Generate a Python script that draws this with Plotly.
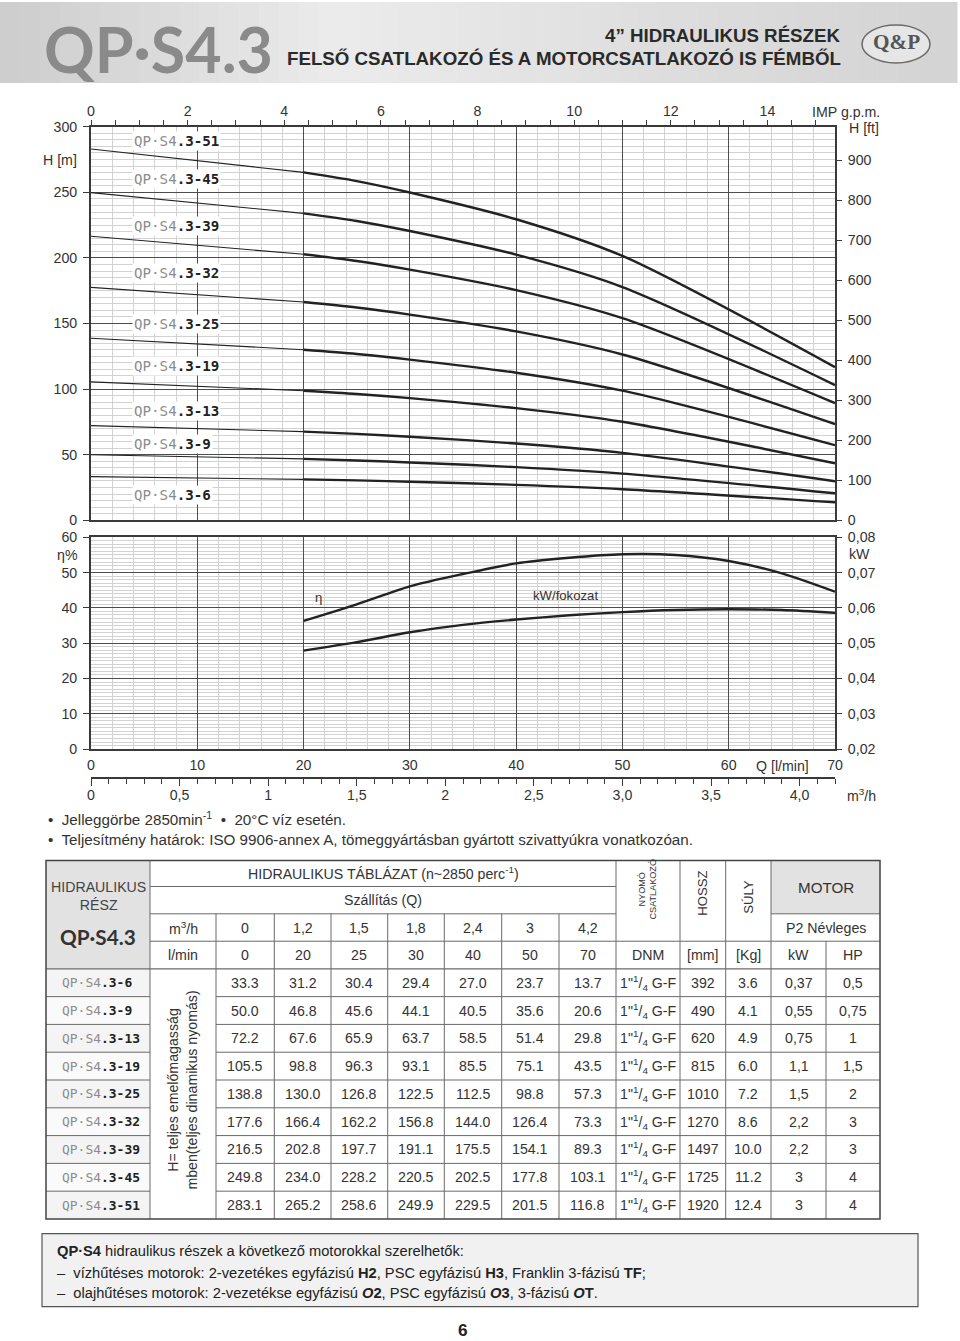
import plotly.graph_objects as go

# The photographed picture maps page position p to a + S*p; place everything so that it lands
# where the reference has it.
S = 0.9876
AXX, AYY = 4.0, 8.0
FW, FH = 968, 1350
F = 1 / S  # size compensation


def X(p):
    return ((p - AXX) / S) / FW


def Y(p):
    return 1 - ((p - AYY) / S) / FH


def fs(v):
    return round(v * F, 2)


# ---------------- data ----------------
models = ['3-6', '3-9', '3-13', '3-19', '3-25', '3-32', '3-39', '3-45', '3-51']
q_lmin = [0, 20, 25, 30, 40, 50, 70]
q_m3h_labels = ['0', '1,2', '1,5', '1,8', '2,4', '3', '4,2']
h_3_6 = [33.3, 31.2, 30.4, 29.4, 27.0, 23.7, 13.7]
h_3_9 = [50.0, 46.8, 45.6, 44.1, 40.5, 35.6, 20.6]
h_3_13 = [72.2, 67.6, 65.9, 63.7, 58.5, 51.4, 29.8]
h_3_19 = [105.5, 98.8, 96.3, 93.1, 85.5, 75.1, 43.5]
h_3_25 = [138.8, 130.0, 126.8, 122.5, 112.5, 98.8, 57.3]
h_3_32 = [177.6, 166.4, 162.2, 156.8, 144.0, 126.4, 73.3]
h_3_39 = [216.5, 202.8, 197.7, 191.1, 175.5, 154.1, 89.3]
h_3_45 = [249.8, 234.0, 228.2, 220.5, 202.5, 177.8, 103.1]
h_3_51 = [283.1, 265.2, 258.6, 249.9, 229.5, 201.5, 116.8]
heads = [h_3_6, h_3_9, h_3_13, h_3_19, h_3_25, h_3_32, h_3_39, h_3_45, h_3_51]

dnm_text = '1"<sup>1</sup>/<sub>4</sub> G-F'
length_mm = [392, 490, 620, 815, 1010, 1270, 1497, 1725, 1920]
weight_kg = [3.6, 4.1, 4.9, 6.0, 7.2, 8.6, 10.0, 11.2, 12.4]
motor_kw = ['0,37', '0,55', '0,75', '1,1', '1,5', '2,2', '2,2', '3', '3']
motor_hp = ['0,5', '0,75', '1', '1,5', '2', '3', '3', '4', '4']

q_eff = [20, 25, 30, 35, 40, 45, 50, 55, 60, 65, 70]
eta_pct = [36.3, 41.0, 46.1, 49.6, 52.6, 54.2, 55.2, 55.0, 53.3, 49.8, 44.6]
kw_stage = [0.0479, 0.0503, 0.0531, 0.0552, 0.0567, 0.0579, 0.0588, 0.0594, 0.0596, 0.0594, 0.0586]

gpm_per_lmin = 1 / 4.54609
ft_per_m = 1 / 0.3048
m3h_per_lmin = 0.06
m3h_tickvals = [0, 0.5, 1, 1.5, 2, 2.5, 3, 3.5, 4]
m3h_ticktext = ['0', '0,5', '1', '1,5', '2', '2,5', '3,0', '3,5', '4,0']
kw_tickvals = [0.02, 0.03, 0.04, 0.05, 0.06, 0.07, 0.08]
kw_ticktext = ['0,02', '0,03', '0,04', '0,05', '0,06', '0,07', '0,08']

# label positions (layout, in chart units)
label_q = 3.83
label_h = [19.1, 58.5, 83.2, 117.5, 150, 188.4, 224.5, 260, 289.2]

# ---------------- style ----------------
FONT = 'Liberation Sans, Arial, sans-serif'
MONO = 'DejaVu Sans Mono, monospace'
AX = '#3a3a3a'
MAJ = '#4d4d4d'
MIN = '#d2d2d2'
TXT = '#333333'
GRAY = '#8c8c8c'
LINEC = '#222222'

L, R = 91, 835
T1, B1 = 126.7, 520
T2, B2 = 537, 748.7
M3H_Y = 777.7

fig = go.Figure()

for m, h in zip(models, heads):
    fig.add_trace(go.Scatter(x=q_lmin[:2], y=h[:2], mode='lines', xaxis='x', yaxis='y',
                             line=dict(color=LINEC, width=1.1), showlegend=False, hoverinfo='skip'))
    fig.add_trace(go.Scatter(x=q_lmin[1:], y=h[1:], mode='lines', xaxis='x', yaxis='y',
                             line=dict(color=LINEC, width=2.4, shape='spline', smoothing=0.8),
                             showlegend=False, hoverinfo='skip'))

fig.add_trace(go.Scatter(x=q_eff, y=eta_pct, mode='lines', xaxis='x2', yaxis='y2',
                         line=dict(color=LINEC, width=2.4, shape='spline', smoothing=0.8),
                         showlegend=False, hoverinfo='skip'))
fig.add_trace(go.Scatter(x=q_eff, y=kw_stage, mode='lines', xaxis='x2', yaxis='y4',
                         line=dict(color=LINEC, width=2.4, shape='spline', smoothing=0.8),
                         showlegend=False, hoverinfo='skip'))

# invisible helpers so that the secondary scales are drawn
for xa, ya in [('x3', 'y'), ('x', 'y3'), ('x4', 'y2')]:
    fig.add_trace(go.Scatter(x=[0], y=[0], mode='markers', xaxis=xa, yaxis=ya,
                             marker=dict(opacity=0), showlegend=False, hoverinfo='skip'))

tickfont = dict(family=FONT, size=fs(14), color=TXT)

fig.update_layout(
    width=FW, height=FH, margin=dict(l=0, r=0, t=0, b=0),
    paper_bgcolor='white', plot_bgcolor='white',
    font=dict(family=FONT, size=fs(14), color=TXT),
    showlegend=False,
    xaxis=dict(domain=[X(L), X(R)], anchor='y', range=[0, 70], tickmode='linear', tick0=0, dtick=10,
               showticklabels=False, ticks='', showgrid=True, gridcolor=MAJ, gridwidth=1.3,
               minor=dict(tick0=0, dtick=2, showgrid=True, gridcolor=MIN, gridwidth=0.8),
               showline=True, linecolor=AX, linewidth=2, mirror=True, zeroline=False, fixedrange=True),
    yaxis=dict(domain=[Y(B1), Y(T1)], anchor='x', range=[0, 300], tickmode='linear', tick0=0, dtick=50,
               ticks='outside', ticklen=6, tickcolor=AX, showgrid=True, gridcolor=MAJ, gridwidth=1.3,
               minor=dict(tick0=0, dtick=5, showgrid=True, gridcolor=MIN, gridwidth=0.8),
               showline=True, linecolor=AX, linewidth=2, mirror=True, zeroline=False,
               tickfont=tickfont, ticklabelstandoff=3, fixedrange=True),
    xaxis3=dict(overlaying='x', anchor='y', side='top', range=[0, 70 * gpm_per_lmin],
                tickmode='linear', tick0=0, dtick=2, ticks='outside', ticklen=6, tickcolor=AX,
                minor=dict(tick0=0, dtick=0.5, ticks='outside', ticklen=6, tickcolor=AX),
                showgrid=False, zeroline=False, showline=False, tickfont=tickfont,
                ticklabelstandoff=-2, fixedrange=True),
    yaxis3=dict(overlaying='y', anchor='x', side='right', range=[0, 300 * ft_per_m],
                tickmode='linear', tick0=0, dtick=100, ticks='outside', ticklen=6, tickcolor=AX,
                showgrid=False, zeroline=False, showline=False, tickfont=tickfont,
                ticklabelstandoff=3, fixedrange=True),
    xaxis2=dict(domain=[X(L), X(R)], anchor='y2', range=[0, 70], tickmode='linear', tick0=0, dtick=10,
                ticks='', showgrid=True, gridcolor=MAJ, gridwidth=1.3,
                minor=dict(tick0=0, dtick=2, showgrid=True, gridcolor=MIN, gridwidth=0.8),
                showline=True, linecolor=AX, linewidth=2, mirror=True, zeroline=False,
                tickfont=tickfont, ticklabelstandoff=2, fixedrange=True),
    yaxis2=dict(domain=[Y(B2), Y(T2)], anchor='x2', range=[0, 60], tickmode='linear', tick0=0, dtick=10,
                ticks='outside', ticklen=6, tickcolor=AX, showgrid=True, gridcolor=MAJ, gridwidth=1.3,
                minor=dict(tick0=0, dtick=1, showgrid=True, gridcolor=MIN, gridwidth=0.7),
                showline=True, linecolor=AX, linewidth=2, mirror=True, zeroline=False,
                tickfont=tickfont, ticklabelstandoff=3, fixedrange=True),
    yaxis4=dict(overlaying='y2', anchor='x2', side='right', range=[0.02, 0.08],
                tickvals=kw_tickvals, ticktext=kw_ticktext, ticks='outside', ticklen=6, tickcolor=AX,
                showgrid=False, zeroline=False, showline=False, tickfont=tickfont,
                ticklabelstandoff=3, fixedrange=True),
    xaxis4=dict(overlaying='x2', anchor='free', position=Y(M3H_Y), range=[0, 70 * m3h_per_lmin],
                tickvals=m3h_tickvals, ticktext=m3h_ticktext, ticks='outside', ticklen=7, tickcolor=AX,
                minor=dict(tick0=0, dtick=0.1, ticks='outside', ticklen=5, tickcolor=AX),
                showline=True, linecolor=AX, linewidth=2, showgrid=False, zeroline=False,
                tickfont=tickfont, ticklabelstandoff=-3, fixedrange=True),
)

shapes = []
anns = []


def ann(x, y, text, size=14, xanchor='center', yanchor='middle', color=TXT, family=FONT,
        angle=0, xref='paper', yref='paper', bg=None, px=True, align='center'):
    d = dict(x=X(x) if px else x, y=Y(y) if px else y, xref=xref, yref=yref, text=text,
             showarrow=False, xanchor=xanchor, yanchor=yanchor, textangle=angle, align=align,
             font=dict(family=family, size=fs(size), color=color))
    if bg:
        d['bgcolor'] = bg
        d['borderpad'] = 1
    anns.append(d)


def hline(x0, x1, y, w=1, c='#666'):
    shapes.append(dict(type='line', xref='paper', yref='paper', x0=X(x0), x1=X(x1), y0=Y(y), y1=Y(y),
                       line=dict(color=c, width=w)))


def vline(x, y0, y1, w=1, c='#666'):
    shapes.append(dict(type='line', xref='paper', yref='paper', x0=X(x), x1=X(x), y0=Y(y0), y1=Y(y1),
                       line=dict(color=c, width=w)))


def rect(x0, y0, x1, y1, fill, line=None, lw=0, layer='below'):
    shapes.append(dict(type='rect', xref='paper', yref='paper', x0=X(x0), x1=X(x1), y0=Y(y0), y1=Y(y1),
                       fillcolor=fill, line=dict(color=line or fill, width=lw), layer=layer))


# ---------------- header banner ----------------
n_str = 48
for i in range(n_str):
    t = i / (n_str - 1)
    if t < 0.35:
        g = 206 + (236 - 206) * (t / 0.35)
    elif t < 0.7:
        g = 236 - (236 - 222) * ((t - 0.35) / 0.35)
    else:
        g = 222 - (222 - 212) * ((t - 0.7) / 0.3)
    g = int(g)
    rect(957 * i / n_str, 2, 957 * (i + 1) / n_str + 0.5, 83, f'rgb({g},{g},{g})')

ann(158, 48, '<b>QP·S4.3</b>', size=62, color='#8a8a8a', family='Lato, DejaVu Sans, sans-serif')
HFONT = 'Liberation Sans, Arial, sans-serif'
ann(843, 35, '<b>4” HIDRAULIKUS RÉSZEK</b>', size=18.5, xanchor='right', color='#2a2a2a', family=HFONT)
ann(843, 58, '<b>FELSŐ CSATLAKOZÓ ÉS A MOTORCSATLAKOZÓ IS FÉMBŐL</b>', size=18.5, xanchor='right',
    color='#2a2a2a', family=HFONT)
shapes.append(dict(type='circle', xref='paper', yref='paper', x0=X(862), x1=X(930), y0=Y(25), y1=Y(63),
                   fillcolor='#e6e6e6', line=dict(color='#6a6a6a', width=1.5)))
ann(896, 42, '<b>Q&amp;P</b>', size=21, color='#555555', family='Liberation Serif, serif')

# ---------------- chart labels ----------------
for m, hy in zip(models, label_h):
    ann(label_q, hy, f'<span style="color:{GRAY}">QP·S4</span><b>.{m}</b>', size=14,
        xanchor='left', family=MONO, xref='x', yref='y', px=False, bg='white', color='#222')

ann(79, 160, 'H [m]', xanchor='right')
ann(810, 112, 'IMP g.p.m.', xanchor='left')
ann(847, 128, 'H [ft]', xanchor='left')
ann(80, 555, 'η%', xanchor='right')
ann(847, 554, 'kW', xanchor='left')
ann(318, 597, 'η', size=13)
ann(565, 595, 'kW/fokozat', size=13)
ann(782, 766, 'Q [l/min]')
ann(845, 795, 'm<sup>3</sup>/h', xanchor='left')

ann(46, 818, '•  Jelleggörbe 2850min<sup>-1</sup>  •  20°C víz esetén.', size=15, xanchor='left')
ann(46, 839, '•  Teljesítmény határok: ISO 9906-annex A, tömeggyártásban gyártott szivattyúkra vonatkozóan.',
    size=15, xanchor='left')

# ---------------- table ----------------
TL, TR, TT, TB = 46, 880, 860, 1218.3
cols = [46, 150, 216, 274.3, 331, 387.7, 444.3, 501.7, 559, 616, 680, 725.7, 771, 826, 880]
row_h = (TB - 968.3) / len(models)
rows = [968.3 + i * row_h for i in range(len(models) + 1)]

rect(TL, TT, 150, 968.3, '#e2e2e2')
rect(771, TT, TR, 913.3, '#e2e2e2')
for i in range(len(models)):
    rect(TL, rows[i], 150, rows[i + 1], '#f4f4f4' if i % 2 == 0 else '#fafafa')

TC = '#6a6a6a'
hline(150, 616, 886, c=TC)
hline(150, 616, 913.3, c=TC)
hline(771, TR, 913.3, c=TC)
hline(150, TR, 940.7, c=TC)
hline(TL, TR, 968.3, c=TC, w=1.3)
for y in rows[1:-1]:
    hline(TL, 150, y, c=TC)
    hline(216, TR, y, c=TC)
for x in [150, 616, 680, 725.7, 771]:
    vline(x, TT, TB, c=TC)
for x in cols[2:9]:
    vline(x, 913.3, TB, c=TC)
vline(826, 940.7, TB, c=TC)
rect(TL, TT, TR, TB, 'rgba(0,0,0,0)', line='#444', lw=1.5, layer='above')

ann(98, 896, 'HIDRAULIKUS<br>RÉSZ', size=14, color='#444')
ann(98, 936, '<b>QP·S4.3</b>', size=20.5, color='#333', family='Lato, DejaVu Sans, sans-serif')
ann(383, 873, 'HIDRAULIKUS TÁBLÁZAT (n~2850 perc<sup>-1</sup>)')
ann(383, 900, 'Szállítás (Q)')
ann(183, 927, 'm<sup>3</sup>/h')
ann(183, 954.5, 'l/min')
for j in range(7):
    cx = (cols[2 + j] + cols[3 + j]) / 2
    ann(cx, 927, q_m3h_labels[j])
    ann(cx, 954.5, str(q_lmin[j]))
ann(648, 889, 'NYOMÓ<br>CSATLAKOZÓ', size=9, angle=-90)
ann(702.8, 892.5, 'HOSSZ', size=13, angle=-90)
ann(748.3, 896, 'SÚLY', size=13, angle=-90)
ann(825.5, 887, 'MOTOR', size=15)
ann(825.5, 927, 'P2 Névleges')
ann(648, 954.5, 'DNM')
ann(702.8, 954.5, '[mm]')
ann(748.3, 954.5, '[Kg]')
ann(798.5, 954.5, 'kW')
ann(853, 954.5, 'HP')
ann(182, 1090, 'H= teljes emelőmagasság<br>mben(teljes dinamikus nyomás)', size=14, angle=-90)

for i, (m, h) in enumerate(zip(models, heads)):
    cy = (rows[i] + rows[i + 1]) / 2
    ann(60, cy, f'<span style="color:{GRAY}">QP·S4</span><b>.{m}</b>', size=12.8, xanchor='left',
        family=MONO, color='#222')
    for j in range(7):
        cx = (cols[2 + j] + cols[3 + j]) / 2
        ann(cx, cy, f'{h[j]:.1f}')
    ann(648, cy, dnm_text)
    ann(702.8, cy, str(length_mm[i]))
    ann(748.3, cy, f'{weight_kg[i]:.1f}')
    ann(798.5, cy, motor_kw[i])
    ann(853, cy, motor_hp[i])

# ---------------- bottom note box ----------------
rect(42, 1233, 918, 1306, '#f1f1f1', line='#555', lw=1.2)
ann(55, 1250, '<b>QP·S4</b> hidraulikus részek a következő motorokkal szerelhetők:', size=14.5,
    xanchor='left', color='#222')
ann(55, 1272, '–  vízhűtéses motorok: 2-vezetékes egyfázisú <b>H2</b>, PSC egyfázisú <b>H3</b>, '
    'Franklin 3-fázisú <b>TF</b>;', size=14.5, xanchor='left', color='#222')
ann(55, 1292, '–  olajhűtéses motorok: 2-vezetékse egyfázisú <b><i>O</i>2</b>, PSC egyfázisú '
    '<b><i>O</i>3</b>, 3-fázisú <b><i>O</i>T</b>.', size=14.5, xanchor='left', color='#222')
ann(463, 1329, '<b>6</b>', size=17, color='#222')

fig.update_layout(shapes=shapes, annotations=anns)
fig.write_html('out.html', config={'displayModeBar': False},
               post_script="document.documentElement.style.margin='0';"
                           "document.body.style.margin='0';document.body.style.padding='0';"
                           "document.body.style.overflow='hidden';")
